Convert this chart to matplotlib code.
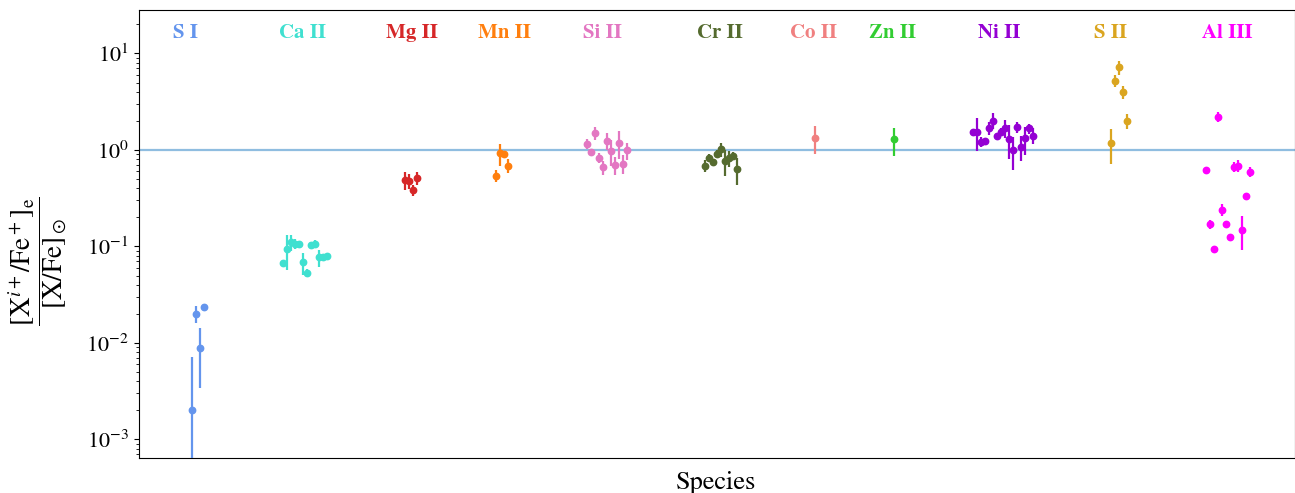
import numpy as np
import matplotlib
matplotlib.use('Agg')
import matplotlib.pyplot as plt

plt.rcParams['font.family'] = ['STIXGeneral', 'DejaVu Serif']
plt.rcParams['mathtext.fontset'] = 'stix'

# ---- data ----
species = ['S I', 'Ca II', 'Mg II', 'Mn II', 'Si II', 'Cr II', 'Co II', 'Zn II', 'Ni II', 'S II', 'Al III']
colors = ['cornflowerblue', 'turquoise', 'tab:red', 'tab:orange', 'tab:pink', 'darkolivegreen',
          'lightcoral', 'limegreen', 'darkviolet', 'goldenrod', 'magenta']

val_SI = [0.0020, 0.020, 0.0089, 0.0238]
err_SI = [0.0052, 0.0039, 0.0055, 0.0018]

val_CaII = [0.0674, 0.0946, 0.110, 0.107, 0.106, 0.0684, 0.0531, 0.104, 0.107, 0.0769, 0.0777, 0.0788]
err_CaII = [0.005, 0.038, 0.02, 0.012, 0.006, 0.018, 0.005, 0.006, 0.01, 0.015, 0.005, 0.005]

val_MgII = [0.486, 0.478, 0.386, 0.51]
err_MgII = [0.10, 0.08, 0.05, 0.077]

val_MnII = [0.543, 0.924, 0.902, 0.689]
err_MnII = [0.08, 0.24, 0.03, 0.11]

val_SiII = [1.16, 0.946, 1.51, 0.833, 0.662, 1.24, 0.976, 0.694, 1.19, 0.717, 0.99]
err_SiII = [0.13, 0.04, 0.24, 0.10, 0.115, 0.245, 0.30, 0.15, 0.375, 0.16, 0.20]

val_CrII = [0.688, 0.833, 0.746, 0.909, 1.02, 0.770, 0.82, 0.873, 0.632]
err_CrII = [0.10, 0.07, 0.05, 0.09, 0.17, 0.23, 0.155, 0.08, 0.20]

val_CoII = [1.34]
err_CoII = [0.435]

val_ZnII = [1.29]
err_ZnII = [0.415]

val_NiII = [1.55, 1.55, 1.22, 1.25, 1.68, 2.01, 1.41, 1.55, 1.68, 1.31, 0.99, 1.74, 1.08, 1.32, 1.68, 1.41]
err_NiII = [0.05, 0.585, 0.145, 0.06, 0.265, 0.38, 0.08, 0.15, 0.34, 0.51, 0.37, 0.225, 0.32, 0.425, 0.20, 0.265]

val_SII = [1.17, 5.21, 7.17, 4.01, 2.0]
err_SII = [0.46, 0.72, 1.2, 0.63, 0.36]

val_AlIII = [0.617, 0.170, 0.0946, 2.21, 0.24, 0.170, 0.126, 0.673, 0.688, 0.149, 0.337, 0.597]
err_AlIII = [0.02, 0.02, 0.005, 0.24, 0.033, 0.008, 0.008, 0.08, 0.095, 0.056, 0.01, 0.075]

values = [val_SI, val_CaII, val_MgII, val_MnII, val_SiII, val_CrII, val_CoII, val_ZnII, val_NiII, val_SII, val_AlIII]
errors = [err_SI, err_CaII, err_MgII, err_MnII, err_SiII, err_CrII, err_CoII, err_ZnII, err_NiII, err_SII, err_AlIII]

# layout (x in slot units)
group_start = [13.45, 36.05, 66.6, 89.3, 112.05, 141.6, 169.2, 188.95, 208.7, 243.1, 266.8]
label_x = [11.8, 41.1, 68.4, 91.4, 115.95, 145.3, 168.75, 188.5, 215.05, 243.0, 272.3]

W, H = 1295, 493
fig = plt.figure(figsize=(W / 100, H / 100), dpi=100)
ax = fig.add_axes([138.5 / W, 1 - 458 / H, (1294.5 - 138.5) / W, (458 - 10) / H])
ax.set_yscale('log')
ax.axhline(1, color='#8fbde0', lw=1.6, zorder=1)

for name, c, vals, errs, x0, lx in zip(species, colors, values, errors, group_start, label_x):
    x = x0 + np.arange(len(vals))
    ax.errorbar(x, vals, yerr=errs, fmt='o', color=c, ms=4.6, elinewidth=1.6,
                capsize=0, zorder=3)
    ax.text(lx, 0.949, name, transform=ax.get_xaxis_transform(), ha='center', va='center',
            color=c, fontsize=15, fontweight='bold')

ax.set_xlim(0, 289)
ax.set_ylim(6.43e-4, 28.2)
ax.set_xticks([])
ax.tick_params(axis='y', labelsize=16)
ax.set_xlabel('Species', fontsize=19, labelpad=9)
ax.set_ylabel(r'$\dfrac{[\mathrm{X}^{i+}/\mathrm{Fe}^+]_\mathrm{e}}{[\mathrm{X}/\mathrm{Fe}]_\odot}$',
              fontsize=19.5, labelpad=12)
ax.yaxis.label.set_y(0.44)

fig.savefig('out.png', dpi=100)
